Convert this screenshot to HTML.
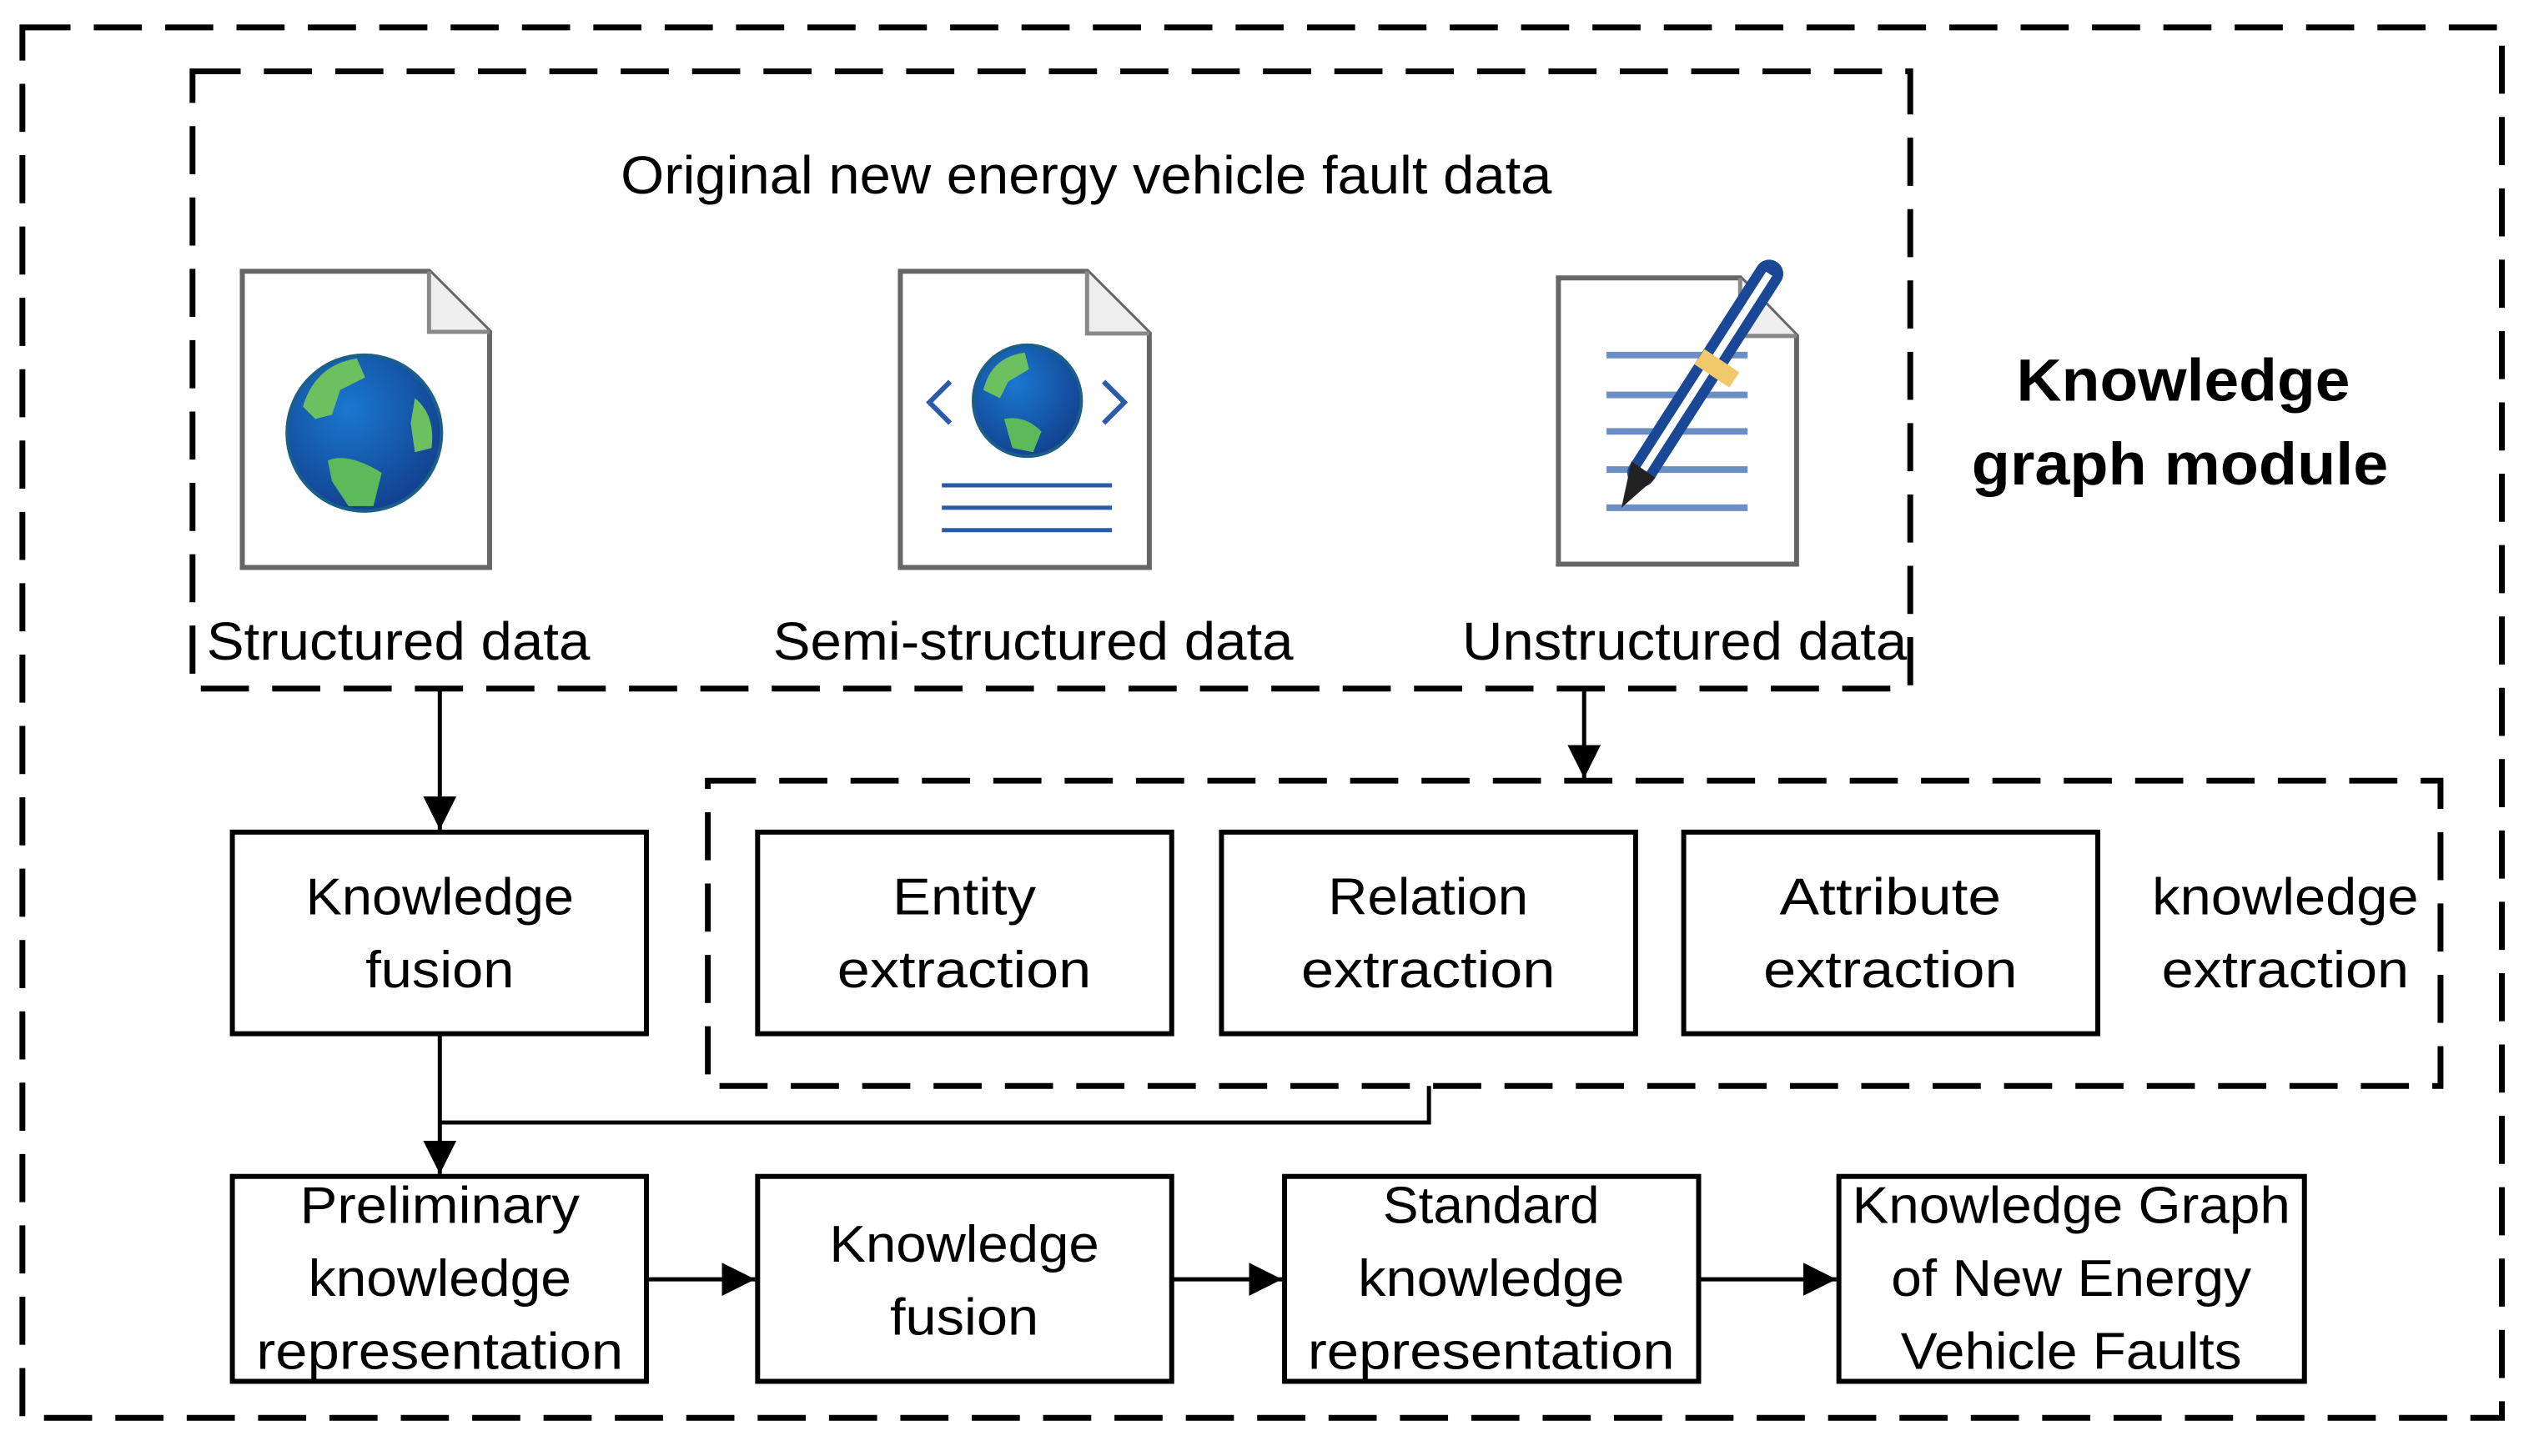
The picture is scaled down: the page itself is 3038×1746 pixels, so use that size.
<!DOCTYPE html>
<html><head><meta charset="utf-8"><style>
html,body{margin:0;padding:0;background:#fff;}
svg{display:block;}
text{font-family:"Liberation Sans",sans-serif;fill:#000;}
</style></head><body>
<svg width="3038" height="1746" viewBox="0 0 3038 1746" xmlns="http://www.w3.org/2000/svg">
<defs>
<radialGradient id="gl" cx="0.4" cy="0.35" r="0.7">
<stop offset="0" stop-color="#1a78d0"/><stop offset="1" stop-color="#123f8c"/>
</radialGradient>
<marker id="ah" viewBox="0 0 10 10" refX="10" refY="5" markerWidth="8" markerHeight="8" markerUnits="strokeWidth" orient="auto">
<path d="M0,0 L10,5 L0,10 z" fill="#000"/>
</marker>
</defs>
<g transform="scale(0.99487)">
<rect x="27" y="33" width="2988" height="1676" fill="none" stroke="#000" stroke-width="7" stroke-dasharray="58 28"/>
<rect x="232" y="86" width="2070" height="744" fill="none" stroke="#000" stroke-width="7" stroke-dasharray="58 28"/>
<rect x="853" y="941" width="2088" height="368" fill="none" stroke="#000" stroke-width="7" stroke-dasharray="58 28"/>

<text x="1309" y="233" font-size="64" text-anchor="middle" textLength="1122" lengthAdjust="spacingAndGlyphs">Original new energy vehicle fault data</text>

<path d="M292,327 H517 L590,400 V684 H292 Z" fill="#fff" stroke="#666" stroke-width="6"/>
<path d="M517,327 V400 H590" fill="#eee" stroke="#888" stroke-width="5"/>
<ellipse cx="439" cy="522" rx="93" ry="94" fill="url(#gl)" stroke="#1a5f8a" stroke-width="4"/>
<path d="M365,490 Q380,440 430,432 L440,455 L410,470 L400,500 L380,505 Z" fill="#6cc060"/>
<path d="M395,555 Q420,545 460,570 L450,610 L420,610 L400,580 Z" fill="#5cba5a"/>
<path d="M500,480 Q525,500 520,540 L500,545 L495,510 Z" fill="#6cc060"/>

<path d="M1085,327 H1310 L1385,402 V684 H1085 Z" fill="#fff" stroke="#666" stroke-width="6"/>
<path d="M1310,327 V402 H1385" fill="#eee" stroke="#888" stroke-width="5"/>
<ellipse cx="1238" cy="483" rx="65" ry="67" fill="url(#gl)" stroke="#1a5f8a" stroke-width="4"/>
<path d="M1185,470 Q1195,430 1235,425 L1240,445 L1215,460 L1205,480 Z" fill="#6cc060"/>
<path d="M1210,505 Q1235,500 1255,520 L1245,545 L1220,540 Z" fill="#5cba5a"/>
<path d="M1145,460 L1120,485 L1145,510" fill="none" stroke="#2a5aa8" stroke-width="6"/>
<path d="M1330,460 L1355,485 L1330,510" fill="none" stroke="#2a5aa8" stroke-width="6"/>
<g stroke="#2a5aa8" stroke-width="5"><line x1="1135" y1="585" x2="1340" y2="585"/><line x1="1135" y1="612" x2="1340" y2="612"/><line x1="1135" y1="639" x2="1340" y2="639"/></g>

<path d="M1878,335 H2097 L2165,405 V680 H1878 Z" fill="#fff" stroke="#666" stroke-width="6"/>
<path d="M2097,335 V405 H2165" fill="#eee" stroke="#888" stroke-width="5"/>
<g stroke="#6b8fc4" stroke-width="8"><line x1="1936" y1="428" x2="2106" y2="428"/><line x1="1936" y1="476" x2="2106" y2="476"/><line x1="1936" y1="520" x2="2106" y2="520"/><line x1="1936" y1="566" x2="2106" y2="566"/><line x1="1936" y1="612" x2="2106" y2="612"/></g>
<line x1="1978" y1="570" x2="2132" y2="330" stroke="#1a4896" stroke-width="34" stroke-linecap="round"/>
<line x1="1978" y1="570" x2="2132" y2="330" stroke="#fff" stroke-width="9"/>
<line x1="2048" y1="430" x2="2090" y2="458" stroke="#f2c96a" stroke-width="22"/>
<path d="M1966,556 L1995,576 L1954,612 Z" fill="#222"/>

<text x="480" y="795" font-size="64" text-anchor="middle" textLength="462" lengthAdjust="spacingAndGlyphs">Structured data</text>
<text x="1245" y="795" font-size="64" text-anchor="middle" textLength="627" lengthAdjust="spacingAndGlyphs">Semi-structured data</text>
<text x="2030" y="795" font-size="64" text-anchor="middle" textLength="536" lengthAdjust="spacingAndGlyphs">Unstructured data</text>

<text x="2631" y="483" font-size="72" font-weight="bold" text-anchor="middle" textLength="402" lengthAdjust="spacingAndGlyphs">Knowledge</text>
<text x="2627" y="584" font-size="72" font-weight="bold" text-anchor="middle" textLength="502" lengthAdjust="spacingAndGlyphs">graph module</text>

<g stroke="#000" stroke-width="5" fill="none">
<line x1="530" y1="830" x2="530" y2="1000" marker-end="url(#ah)"/>
<line x1="1909" y1="830" x2="1909" y2="938" marker-end="url(#ah)"/>
<polyline points="1722,1309 1722,1353 530,1353"/>
<line x1="530" y1="1246" x2="530" y2="1415" marker-end="url(#ah)"/>
<line x1="779" y1="1542" x2="910" y2="1542" marker-end="url(#ah)"/>
<line x1="1412" y1="1542" x2="1545" y2="1542" marker-end="url(#ah)"/>
<line x1="2047" y1="1542" x2="2213" y2="1542" marker-end="url(#ah)"/>
</g>

<g fill="#fff" stroke="#000" stroke-width="6">
<rect x="280" y="1003" width="499" height="243"/>
<rect x="913" y="1003" width="499" height="243"/>
<rect x="1472" y="1003" width="499" height="243"/>
<rect x="2029" y="1003" width="499" height="243"/>
<rect x="280" y="1418" width="499" height="247"/>
<rect x="913" y="1418" width="499" height="247"/>
<rect x="1548" y="1418" width="499" height="247"/>
<rect x="2216" y="1418" width="561" height="247"/>
</g>

<g font-size="62" text-anchor="middle">
<text x="530" y="1102" textLength="323" lengthAdjust="spacingAndGlyphs">Knowledge</text>
<text x="530" y="1190" textLength="179" lengthAdjust="spacingAndGlyphs">fusion</text>
<text x="1162" y="1102" textLength="173" lengthAdjust="spacingAndGlyphs">Entity</text>
<text x="1162" y="1190" textLength="306" lengthAdjust="spacingAndGlyphs">extraction</text>
<text x="1721" y="1102" textLength="241" lengthAdjust="spacingAndGlyphs">Relation</text>
<text x="1721" y="1190" textLength="306" lengthAdjust="spacingAndGlyphs">extraction</text>
<text x="2278" y="1102" textLength="267" lengthAdjust="spacingAndGlyphs">Attribute</text>
<text x="2278" y="1190" textLength="306" lengthAdjust="spacingAndGlyphs">extraction</text>
<text x="2754" y="1102" textLength="321" lengthAdjust="spacingAndGlyphs">knowledge</text>
<text x="2754" y="1190" textLength="298" lengthAdjust="spacingAndGlyphs">extraction</text>

<text x="530" y="1474" textLength="337" lengthAdjust="spacingAndGlyphs">Preliminary</text>
<text x="530" y="1562" textLength="317" lengthAdjust="spacingAndGlyphs">knowledge</text>
<text x="530" y="1650" textLength="442" lengthAdjust="spacingAndGlyphs">representation</text>
<text x="1162" y="1521" textLength="325" lengthAdjust="spacingAndGlyphs">Knowledge</text>
<text x="1162" y="1609" textLength="179" lengthAdjust="spacingAndGlyphs">fusion</text>
<text x="1797" y="1474" textLength="261" lengthAdjust="spacingAndGlyphs">Standard</text>
<text x="1797" y="1562" textLength="321" lengthAdjust="spacingAndGlyphs">knowledge</text>
<text x="1797" y="1650" textLength="442" lengthAdjust="spacingAndGlyphs">representation</text>
<text x="2496" y="1474" textLength="528" lengthAdjust="spacingAndGlyphs">Knowledge Graph</text>
<text x="2496" y="1562" textLength="434" lengthAdjust="spacingAndGlyphs">of New Energy</text>
<text x="2496" y="1650" textLength="411" lengthAdjust="spacingAndGlyphs">Vehicle Faults</text>
</g>
</g>
</svg>
</body></html>
